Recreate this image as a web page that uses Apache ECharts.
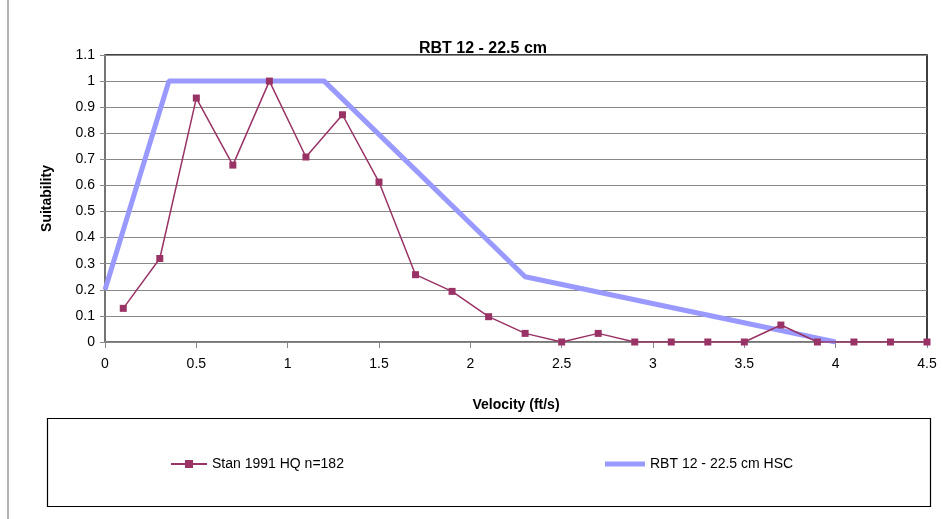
<!DOCTYPE html>
<html>
<head>
<meta charset="utf-8">
<script src="https://cdn.jsdelivr.net/npm/echarts@6/dist/echarts.min.js"></script>
<style>html,body{margin:0;padding:0;background:#fff}#c{width:943px;height:519px}</style>
</head>
<body>
<div id="c"></div>
<script>
const title = 'RBT 12 - 22.5 cm';
const xAxisName = 'Velocity (ft/s)';
const yAxisName = 'Suitability';
const stanName = 'Stan 1991 HQ n=182';
const stanX = [0.1,0.3,0.5,0.7,0.9,1.1,1.3,1.5,1.7,1.9,2.1,2.3,2.5,2.7,2.9,3.1,3.3,3.5,3.7,3.9,4.1,4.3,4.5];
const stanY = [0.129,0.32,0.935,0.678,1.0,0.709,0.871,0.613,0.258,0.194,0.097,0.033,0,0.033,0,0,0,0,0.065,0,0,0,0];
const hscName = 'RBT 12 - 22.5 cm HSC';
const hscX = [0,0.35,1.2,2.3,4.0];
const hscY = [0.2,1,1,0.25,0];

const font = 'Liberation Sans, Arial, sans-serif';
const chart = echarts.init(document.getElementById('c'));
chart.setOption({
  animation:false,
  backgroundColor:'#fff',
  textStyle:{fontFamily:font},
  title:{text:title,left:478,top:36,textAlign:'center',textStyle:{fontFamily:font,fontSize:16,fontWeight:'bold',color:'#000'}},
  grid:{left:105,right:16,top:55,bottom:177,show:true,borderColor:'#000',borderWidth:1.5,backgroundColor:'#fff'},
  xAxis:{type:'value',min:0,max:4.5,interval:0.5,
    name:xAxisName,nameLocation:'middle',nameGap:56,
    nameTextStyle:{fontFamily:font,fontSize:14,fontWeight:'bold',color:'#000'},
    axisLine:{lineStyle:{color:'#888',width:1.5}},
    axisTick:{show:true,length:6,lineStyle:{color:'#888'}},
    axisLabel:{color:'#000',fontSize:14,margin:15,fontFamily:font},
    splitLine:{show:false}},
  yAxis:{type:'value',min:0,max:1.1,interval:0.1,
    name:yAxisName,nameLocation:'middle',nameGap:51,nameRotate:90,
    nameTextStyle:{fontFamily:font,fontSize:14,fontWeight:'bold',color:'#000'},
    axisLine:{show:true,lineStyle:{color:'#888',width:1.5}},
    axisTick:{show:true,length:5,lineStyle:{color:'#888'}},
    axisLabel:{color:'#000',fontSize:14,margin:10,fontFamily:font},
    splitLine:{show:true,lineStyle:{color:'#888',width:1}}},
  legend:[
    {data:[stanName],left:165,top:452,itemWidth:36,itemHeight:10,itemGap:8,
      textStyle:{fontFamily:font,fontSize:14,color:'#000'}},
    {data:[{name:hscName,icon:'rect'}],left:600,top:452,itemWidth:40,itemHeight:5,itemGap:4,
      itemStyle:{color:'#9999FF'},
      textStyle:{fontFamily:font,fontSize:14,color:'#000'}}
  ],
  graphic:[
    {type:'rect',left:45,top:416,shape:{width:883,height:88},style:{fill:'none',stroke:'#000',lineWidth:1.2},z:-1},
    {type:'line',shape:{x1:8,y1:0,x2:8,y2:519},style:{stroke:'#999',lineWidth:1.5}}
  ],
  series:[
    {name:hscName,type:'line',data:hscX.map((x,i)=>[x,hscY[i]]),
      showSymbol:false,symbol:'none',lineStyle:{color:'#9999FF',width:5},itemStyle:{color:'#9999FF'},z:2},
    {name:stanName,type:'line',data:stanX.map((x,i)=>[x,stanY[i]]),
      symbol:'rect',symbolSize:7,lineStyle:{color:'#993366',width:1.5},itemStyle:{color:'#993366'},z:3}
  ]
});
</script>
</body>
</html>
